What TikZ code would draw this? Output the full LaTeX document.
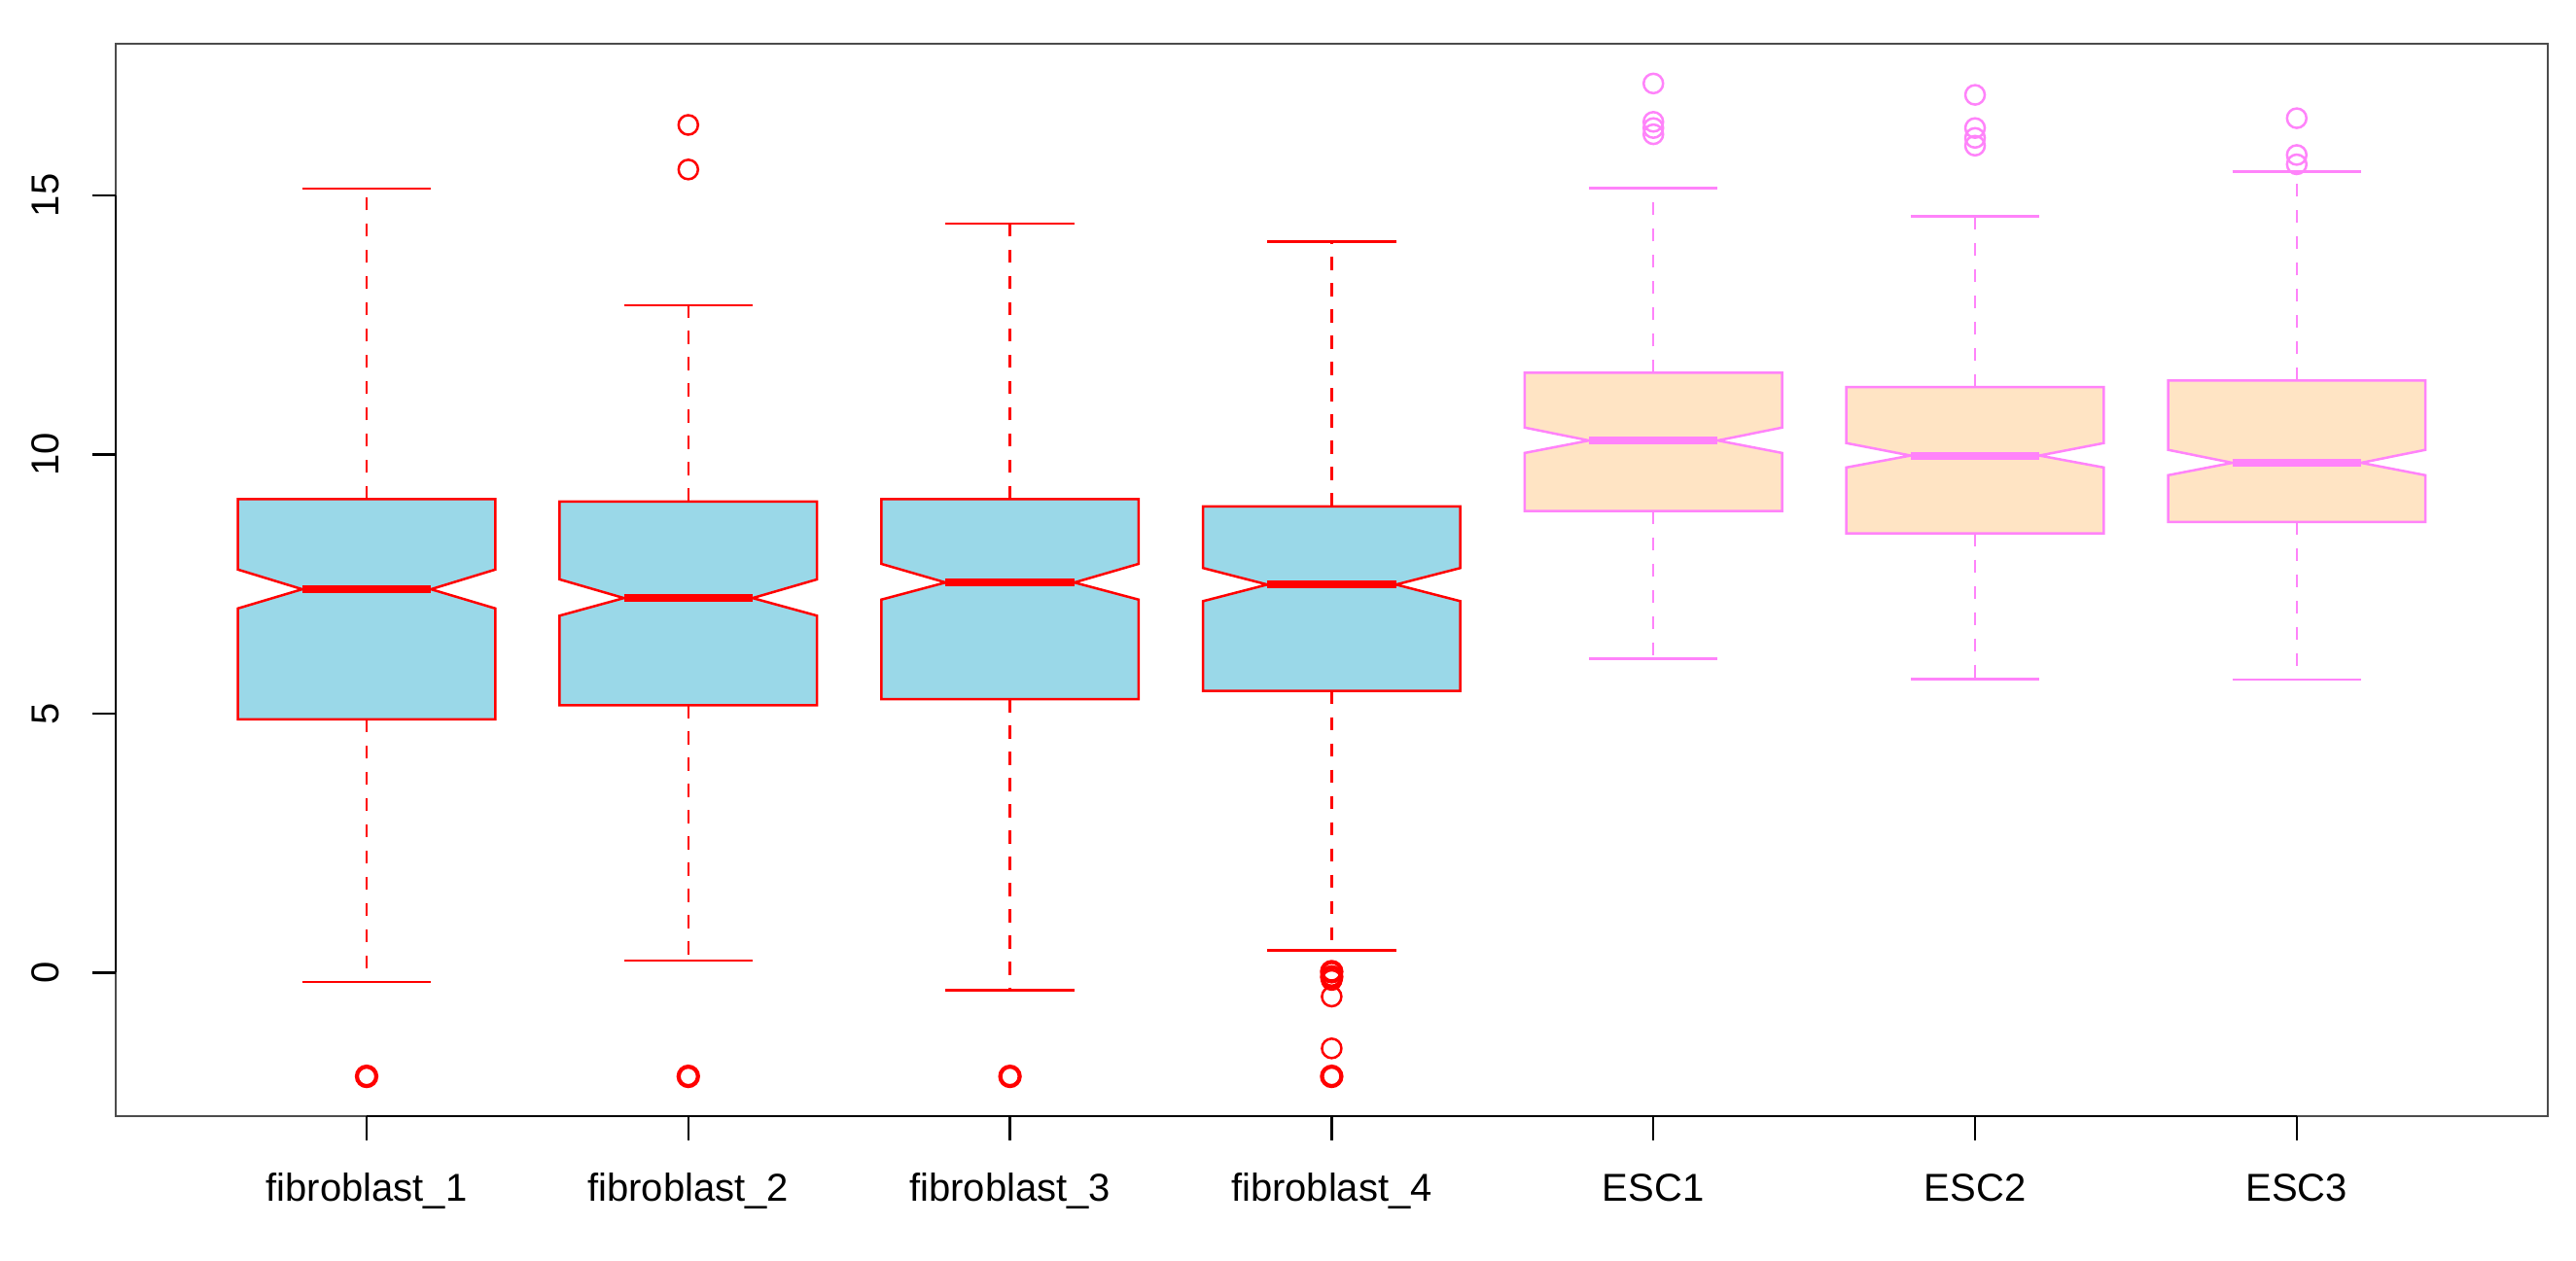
\documentclass[tikz,border=0pt]{standalone}
\usepackage{fontspec}
\setmainfont{Liberation Sans}
\definecolor{fibline}{HTML}{FF0000}
\definecolor{fibfill}{HTML}{9AD8E8}
\definecolor{escline}{HTML}{FF83FA}
\definecolor{escfill}{HTML}{FFE4C4}
\newcommand{\drawbox}[9]{%
  % #1 centre, #2 low, #3 Q1, #4 notch low, #5 median, #6 notch high, #7 Q3, #8 high, #9 colour prefix
  \draw[whisk, draw=#9line] (#1,#7) -- (#1,#8);
  \draw[whisk, draw=#9line] (#1,#3) -- (#1,#2);
  \draw[stapleline, draw=#9line] (#1-0.2,#8) -- (#1+0.2,#8);
  \draw[stapleline, draw=#9line] (#1-0.2,#2) -- (#1+0.2,#2);
  \draw[boxline, draw=#9line, fill=#9fill]
    (#1-0.4,#3) -- (#1-0.4,#4) -- (#1-0.2,#5) -- (#1-0.4,#6) -- (#1-0.4,#7)
    -- (#1+0.4,#7) -- (#1+0.4,#6) -- (#1+0.2,#5) -- (#1+0.4,#4) -- (#1+0.4,#3) -- cycle;
  \draw[medline, draw=#9line] (#1-0.2,#5) -- (#1+0.2,#5);
}
\begin{document}
\begin{tikzpicture}[x=66.16pt, y=10.66pt,
  whisk/.style={line width=0.5pt, dash pattern=on 2.7pt off 2.7pt},
  stapleline/.style={line width=0.5pt},
  boxline/.style={line width=0.5pt, line join=miter},
  medline/.style={line width=1.6pt},
  outl/.style={line width=0.5pt},
  outlthick/.style={line width=0.85pt},
  ticklab/.style={font=\fontsize{8}{9.6}\selectfont, inner sep=0pt},
  frame/.style={line width=0.5pt, draw=black!70},
  axisline/.style={line width=0.5pt, draw=black}]
\useasboundingbox (-0.13966,-5.5629) rectangle (7.8682,18.771);
\fill[white] (-0.13966,-5.5629) rectangle (7.8682,18.771);

% boxes
\drawbox{1}{-0.18}{4.89}{7.03}{7.40}{7.78}{9.14}{15.13}{fib}
\drawbox{2}{0.23}{5.16}{6.89}{7.23}{7.59}{9.09}{12.88}{fib}
\drawbox{3}{-0.34}{5.28}{7.20}{7.53}{7.89}{9.14}{14.46}{fib}
\drawbox{4}{0.435}{5.44}{7.17}{7.49}{7.81}{9.00}{14.11}{fib}
\drawbox{5}{6.06}{8.91}{10.03}{10.27}{10.52}{11.58}{15.14}{esc}
\drawbox{6}{5.67}{8.48}{9.75}{9.98}{10.22}{11.30}{14.60}{esc}
\drawbox{7}{5.66}{8.70}{9.60}{9.84}{10.09}{11.43}{15.46}{esc}

% outliers
\foreach \c/\v in {1/-2.0, 2/-2.0, 3/-2.0, 4/-2.0, 4/0.02, 4/-0.08}
  \draw[outlthick, fibline] (\c,\v) circle[radius=2pt];
\foreach \c/\v in {2/16.36, 2/15.5, 4/-0.14, 4/-0.46, 4/-1.46}
  \draw[outl, fibline] (\c,\v) circle[radius=2pt];
\foreach \c/\v in {5/17.16, 5/16.42, 5/16.30, 5/16.18,
                   6/16.94, 6/16.30, 6/16.11, 6/15.96,
                   7/16.49, 7/15.78, 7/15.6}
  \draw[outl, escline] (\c,\v) circle[radius=2pt];

% frame and axes
\draw[frame] (0.22,-2.77) rectangle (7.78,17.93);
\draw[axisline] (0.22,0) -- (0.22,15);
\draw[axisline] (1,-2.77) -- (7,-2.77);
\foreach \v in {0,5,10,15} {
  \draw[axisline] (0.22,\v) -- (0.147,\v);
  \node[ticklab, rotate=90, anchor=base] (ylab\v) at (0.0447,\v) {\v};
}
\foreach \c/\t in {1/fibroblast\_1, 2/fibroblast\_2, 3/fibroblast\_3, 4/fibroblast\_4, 5/ESC1, 6/ESC2, 7/ESC3} {
  \draw[axisline] (\c,-2.77) -- (\c,-3.24);
  \node[ticklab, anchor=base] (xlab\c) at (\c,-4.40) {\t};
}
\end{tikzpicture}
\end{document}
